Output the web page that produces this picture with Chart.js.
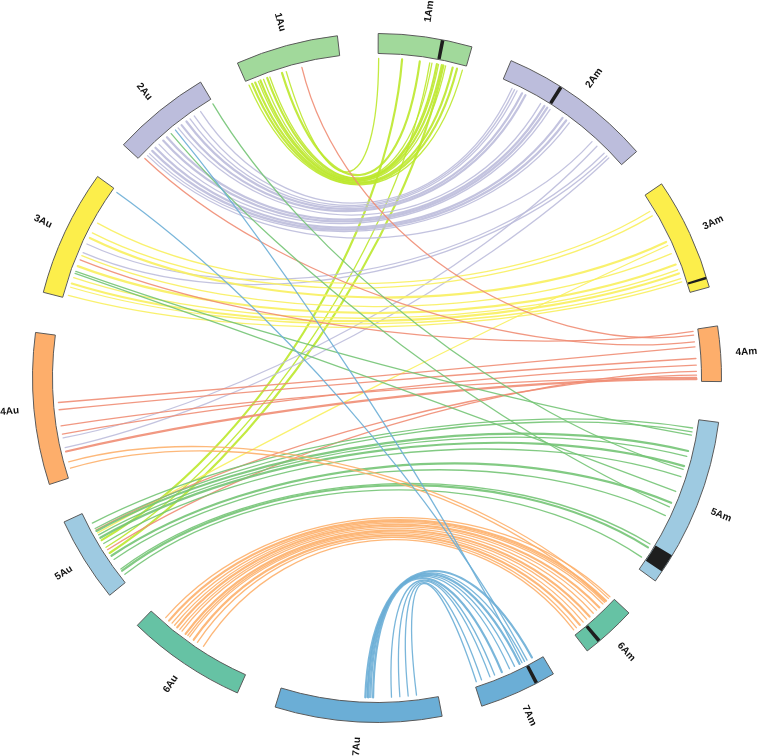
<!DOCTYPE html>
<html>
<head>
<meta charset="utf-8">
<script src="https://cdn.jsdelivr.net/npm/chart.js@4/dist/chart.umd.min.js"></script>
<style>
  html, body { margin: 0; padding: 0; background: #fff; }
  canvas { display: block; }
</style>
</head>
<body>
<canvas id="chart" width="758" height="756"></canvas>
<script>
// chromosomes clockwise from the top
var chromNames = ["1Am", "2Am", "3Am", "4Am", "5Am", "6Am", "7Am", "7Au", "6Au", "5Au", "4Au", "3Au", "2Au", "1Au"];
var chromSizes = [15.8, 26.0, 19.0, 9.3, 28.7, 9.4, 13.1, 28.1, 20.2, 14.4, 25.6, 21.4, 16.6, 17.3];
var gapSizes = [6.9, 6.8, 6.6, 6.8, 6.9, 6.8, 6.8, 6.7, 6.8, 6.7, 6.8, 6.8, 6.9, 6.8];
var chromGroup = [1, 2, 3, 4, 5, 6, 7, 7, 6, 5, 4, 3, 2, 1];

var groupColors = ["#a1d99b", "#bcbddc", "#fcee4b", "#fdae6b", "#9ecae1", "#66c2a4", "#6baed6"];
var linkColors = ["#bde82c", "#bcbddc", "#f8ef5e", "#ef8d74", "#74c476", "#fdb06c", "#6baed6"];

// black bands on the Am chromosomes
var markChrom = ["1Am", "2Am", "3Am", "5Am", "6Am", "7Am"];
var markPos = [10.5, 9.1, 17.2, 23.6, 6.5, 2.9];
var markLen = [0.6, 0.6, 0.4, 3.2, 0.6, 0.6];

// links Au -> Am (positions in chromosome units from the clockwise start)
var linkFrom = [
  // 1Au - 1Am
  "1Au", "1Au", "1Au", "1Au", "1Au", "1Au", "1Au", "1Au", "1Au", "1Au",
  // 5Au - 1Am
  "5Au", "5Au", "5Au",
  // 2Au - 2Am
  "2Au", "2Au", "2Au", "2Au", "2Au", "2Au", "2Au", "2Au", "2Au", "2Au", "2Au", "2Au", "2Au",
  // 3Au/4Au - 2Am
  "3Au", "3Au", "4Au", "4Au",
  // 3Au - 3Am
  "3Au", "3Au", "3Au", "3Au", "3Au", "3Au", "3Au", "3Au", "3Au",
  "5Au",
  // -> 4Am
  "4Au", "4Au", "4Au", "4Au", "4Au", "1Au", "2Au", "3Au", "5Au", "5Au",
  // -> 5Am
  "5Au", "5Au", "5Au", "5Au", "5Au", "5Au", "5Au", "5Au", "5Au", "5Au", "5Au", "2Au", "2Au", "3Au", "3Au",
  // -> 6Am
  "6Au", "6Au", "6Au", "6Au", "6Au", "6Au", "6Au", "6Au", "6Au", "6Au", "6Au", "6Au", "6Au", "4Au", "4Au",
  // -> 7Am
  "7Au", "7Au", "7Au", "7Au", "7Au", "7Au", "7Au", "7Au", "7Au", "7Au", "2Au", "3Au"
];
var linkFromPos = [
  0.3, 0.9, 1.5, 2.1, 2.5, 3.1, 3.8, 4.3, 6.6, 7.4,
  8.6, 7.1, 5.9,
  1.5, 2.0, 2.7, 3.5, 4.4, 5.4, 6.3, 8.9, 9.7, 10.8, 11.6, 12.5, 13.9,
  8.7, 10.4, 5.4, 7.2,
  14.6, 12.6, 11.6, 8.1, 6.1, 3.9, 2.8, 2.1, 0.6,
  10.1,
  13.6, 12.3, 9.4, 7.9, 4.7, 10.3, 0.8, 7.3, 10.7, 6.6,
  12.1, 11.0, 10.5, 9.7, 9.1, 7.9, 5.3, 4.5, 2.4, 2.0, 1.2, 16.5, 7.3, 5.1, 4.7,
  17.5, 16.7, 16.0, 15.4, 14.8, 14.2, 13.7, 12.9, 12.4, 12.0, 11.1, 10.3, 9.0, 2.8, 1.6,
  13.0, 12.7, 12.5, 12.2, 12.0, 11.6, 8.3, 6.8, 5.3, 3.8, 8.3, 21.1
];
var linkTo = [
  "1Am", "1Am", "1Am", "1Am", "1Am", "1Am", "1Am", "1Am", "1Am", "1Am",
  "1Am", "1Am", "1Am",
  "2Am", "2Am", "2Am", "2Am", "2Am", "2Am", "2Am", "2Am", "2Am", "2Am", "2Am", "2Am", "2Am",
  "2Am", "2Am", "2Am", "2Am",
  "3Am", "3Am", "3Am", "3Am", "3Am", "3Am", "3Am", "3Am", "3Am",
  "3Am",
  "4Am", "4Am", "4Am", "4Am", "4Am", "4Am", "4Am", "4Am", "4Am", "4Am",
  "5Am", "5Am", "5Am", "5Am", "5Am", "5Am", "5Am", "5Am", "5Am", "5Am", "5Am", "5Am", "5Am", "5Am", "5Am",
  "6Am", "6Am", "6Am", "6Am", "6Am", "6Am", "6Am", "6Am", "6Am", "6Am", "6Am", "6Am", "6Am", "6Am", "6Am",
  "7Am", "7Am", "7Am", "7Am", "7Am", "7Am", "7Am", "7Am", "7Am", "7Am", "7Am", "7Am"
];
var linkToPos = [
  15.3, 14.3, 13.5, 12.2, 11.5, 10.9, 10.6, 9.7, 7.5, 0.1,
  4.3, 9.3, 11.8,
  19.4, 14.1, 13.4, 12.6, 9.9, 9.3, 8.7, 7.9, 4.8, 4.1, 3.1, 2.6, 2.1,
  23.1, 22.4, 23.6, 20.6,
  2.9, 3.8, 9.1, 11.4, 13.5, 14.5, 15.2, 16.2, 16.8,
  9.8,
  3.1, 5.2, 8.6, 6.4, 8.9, 1.0, 2.2, 0.3, 8.2, 7.5,
  1.6, 2.3, 5.8, 6.8, 8.6, 10.6, 15.6, 18.1, 23.9, 24.6, 26.7, 9.2, 16.4, 2.9, 13.4,
  0.2, 1.2, 1.6, 2.0, 2.9, 3.6, 4.4, 5.3, 6.0, 6.8, 7.6, 8.4, 9.0, 0.6, 1.4,
  1.8, 3.3, 4.3, 5.3, 6.3, 7.8, 9.2, 10.1, 11.7, 12.7, 3.8, 2.8
];
var linkWeight = [
  1, 2, 2, 1, 2, 1, 2, 1, 2, 1,
  2, 1, 2,
  1, 1, 2, 2, 1, 2, 2, 1, 2, 2, 1, 1, 1,
  1, 1, 1, 1,
  1, 1, 2, 1, 2, 1, 2, 1, 1,
  1,
  1, 1, 1, 1, 2, 1, 1, 1, 1, 1,
  1, 1, 2, 1, 2, 1, 2, 1, 1, 2, 1, 1, 1, 1, 1,
  1, 2, 1, 1, 2, 1, 1, 2, 1, 1, 2, 1, 1, 1, 1,
  2, 1, 2, 1, 1, 2, 1, 1, 1, 1, 1, 1
];

// doughnut slices: chromosome, gap, chromosome, gap ...
var sliceData = [];
var sliceColors = [];
var sliceBorders = [];
chromSizes.forEach(function (size, i) {
  sliceData.push(size, gapSizes[i]);
  sliceColors.push(groupColors[chromGroup[i] - 1], "rgba(0,0,0,0)");
  sliceBorders.push(1, 0);
});

function chromArc(chart, name) {
  return chart.getDatasetMeta(0).data[chromNames.indexOf(name) * 2];
}

function posAngle(arc, name, pos) {
  var size = chromSizes[chromNames.indexOf(name)];
  return arc.startAngle + (arc.endAngle - arc.startAngle) * pos / size;
}

var circosPlugin = {
  id: "circos",
  beforeDatasetsDraw: function (chart) {
    var ctx = chart.ctx;
    ctx.save();
    ctx.globalAlpha = 0.9;
    ctx.lineCap = "round";
    for (var i = 0; i < linkFrom.length; i++) {
      var arcA = chromArc(chart, linkFrom[i]);
      var arcB = chromArc(chart, linkTo[i]);
      var cx = arcA.x, cy = arcA.y;
      var r = arcA.innerRadius - 5;
      var a1 = posAngle(arcA, linkFrom[i], linkFromPos[i]);
      var a2 = posAngle(arcB, linkTo[i], linkToPos[i]);
      var d = a2 - a1;
      while (d > Math.PI) d -= 2 * Math.PI;
      while (d <= -Math.PI) d += 2 * Math.PI;
      var sep = Math.abs(d) * 180 / Math.PI;
      // control points pulled in along the radius of each end
      var c = 0.56 - 0.0009 * sep;
      ctx.beginPath();
      ctx.moveTo(cx + r * Math.cos(a1), cy + r * Math.sin(a1));
      ctx.bezierCurveTo(
        cx + r * c * Math.cos(a1), cy + r * c * Math.sin(a1),
        cx + r * c * Math.cos(a2), cy + r * c * Math.sin(a2),
        cx + r * Math.cos(a2), cy + r * Math.sin(a2));
      ctx.strokeStyle = linkColors[chromGroup[chromNames.indexOf(linkTo[i])] - 1];
      ctx.lineWidth = linkWeight[i] > 1 ? 2.2 : 1.3;
      ctx.stroke();
    }
    ctx.restore();
  },
  afterDatasetsDraw: function (chart) {
    var ctx = chart.ctx;
    ctx.save();
    // bands
    markChrom.forEach(function (name, i) {
      var arc = chromArc(chart, name);
      var s = posAngle(arc, name, markPos[i]);
      var e = posAngle(arc, name, markPos[i] + markLen[i]);
      ctx.beginPath();
      ctx.arc(arc.x, arc.y, arc.outerRadius - 0.5, s, e);
      ctx.arc(arc.x, arc.y, arc.innerRadius + 0.5, e, s, true);
      ctx.closePath();
      ctx.fillStyle = "#1e1e1e";
      ctx.fill();
    });
    // labels
    ctx.font = "bold 10px 'Liberation Sans', Arial, sans-serif";
    ctx.fillStyle = "#111";
    ctx.textBaseline = "middle";
    chromNames.forEach(function (name) {
      var arc = chromArc(chart, name);
      var mid = (arc.startAngle + arc.endAngle) / 2;
      var r = arc.outerRadius + 15;
      var deg = ((mid * 180 / Math.PI + 90) % 360 + 360) % 360;
      ctx.save();
      ctx.translate(arc.x + r * Math.cos(mid), arc.y + r * Math.sin(mid));
      if (deg < 180) {
        ctx.rotate(mid);
        ctx.textAlign = "left";
      } else {
        ctx.rotate(mid + Math.PI);
        ctx.textAlign = "right";
      }
      ctx.fillText(name, 0, 0);
      ctx.restore();
    });
    ctx.restore();
  }
};

var config = {
  type: "doughnut",
  data: {
    labels: sliceData.map(function (v, i) { return i % 2 === 0 ? chromNames[i / 2] : ""; }),
    datasets: [
      {
        data: sliceData,
        backgroundColor: sliceColors,
        borderColor: "#5a5a5a",
        borderWidth: sliceBorders,
        hoverOffset: 0,
      },
    ],
  },
  options: {
    responsive: false,
    animation: false,
    rotation: 0.2,
    cutout: "94.2%",
    layout: {
      padding: { left: 32, right: 36, top: 33, bottom: 33 },
    },
    plugins: {
      legend: { display: false },
      tooltip: { enabled: false },
    },
  },
  plugins: [circosPlugin],
};

window.onload = function () {
  var ctx = document.getElementById("chart").getContext("2d");
  window.myChord = new Chart(ctx, config);
};
</script>
</body>
</html>
